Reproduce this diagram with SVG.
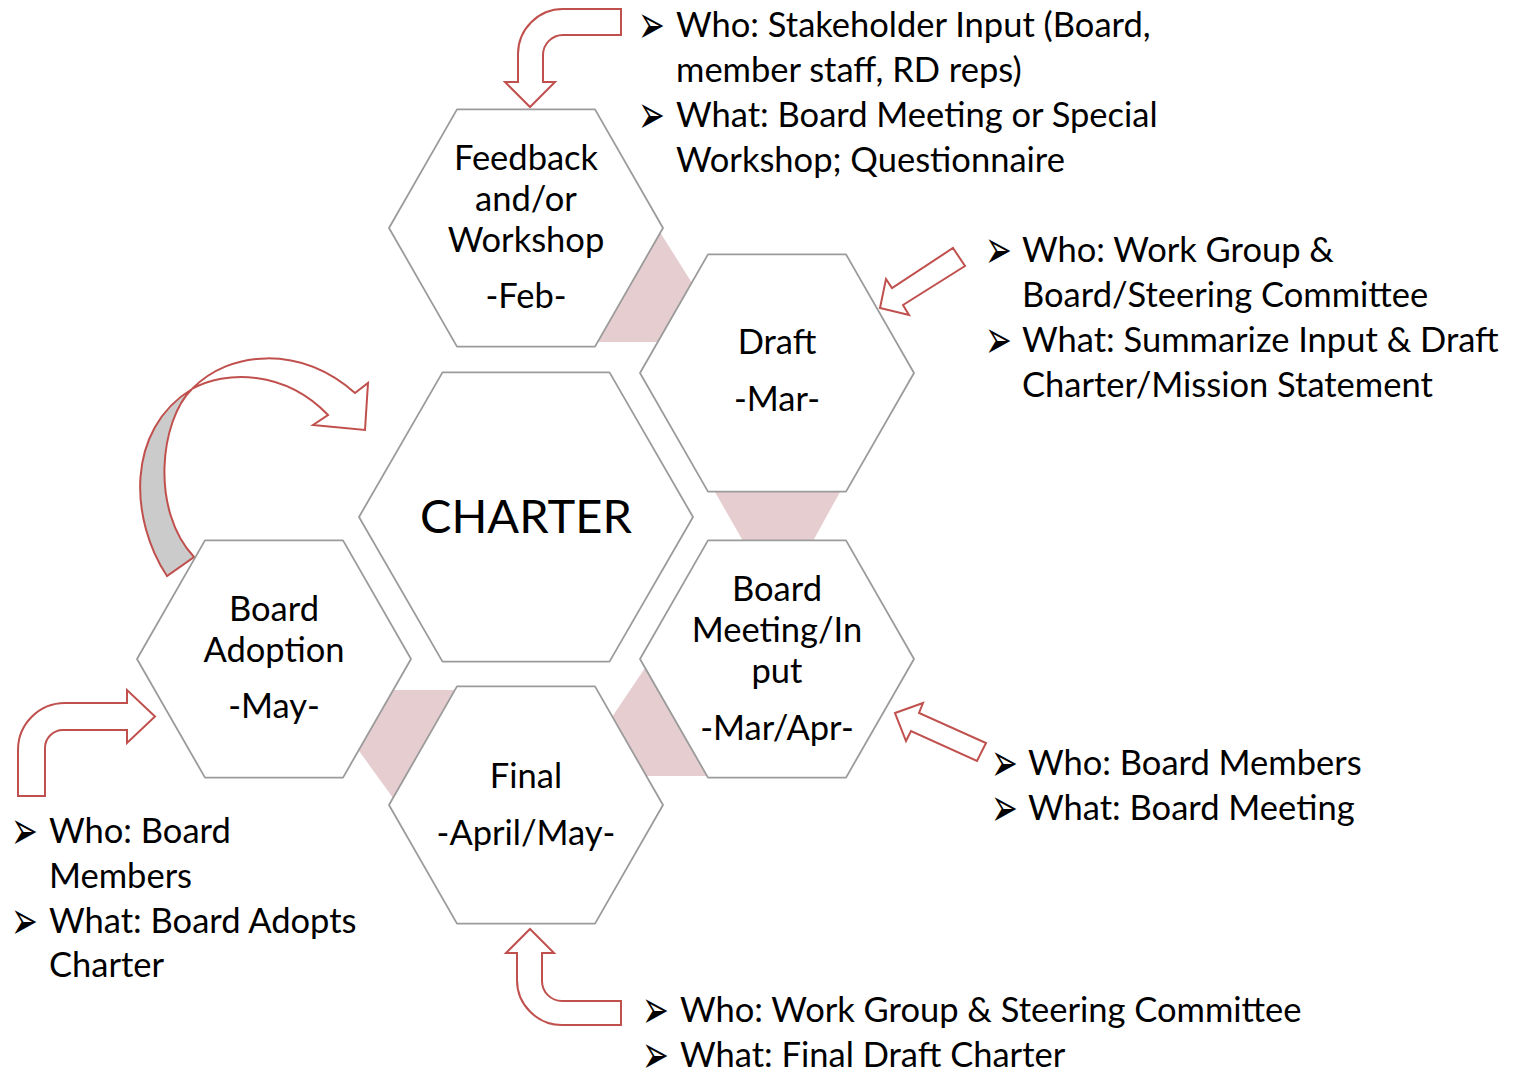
<svg xmlns="http://www.w3.org/2000/svg" width="1515" height="1074" viewBox="0 0 1515 1074">
<style>
.hex{fill:#ffffff;stroke:#9b9b9b;stroke-width:1.8;stroke-linejoin:round}
.bridge{fill:#e6cdd0;stroke:none}
.blk{fill:#ffffff;stroke:#c0504d;stroke-width:2;stroke-linejoin:miter}
.t{font-family:Lato,"Open Sans","Liberation Sans",sans-serif;font-size:34.5px;fill:#000}
.c{text-anchor:middle}
.big{font-size:47px}
.b{font-family:"DejaVu Sans",sans-serif;font-size:40px;fill:#000}
</style>
<defs>
<text id="bul" class="b" transform="scale(0.8,1.35)">➢</text>
</defs>
<rect width="1515" height="1074" fill="#ffffff"/>
<g id="connectors">
<polygon class="bridge" points="660.5,233 692,283 657.9,342 597.2,342"/>
<polygon class="bridge" points="715,492 840,492 813,541 743,541"/>
<polygon class="bridge" points="645,668 707.5,776 646,776 612,717"/>
<polygon class="bridge" points="393,690 455.4,690 393,798 358.4,750"/>
<path class="blk" d="M621,9 L563,9 A45,45 0 0 0 518,54 L518,82 L505,82 L530,107 L555,82 L543,82 L543,55 A20,20 0 0 1 563,35 L621,35 Z"/>
<polygon class="blk" points="953,248 965,266 903,305 909,315 880,308 886,279 892,288"/>
<polygon class="blk" points="895,713 923,703 919,713 986,743 977,761 911,731 906,741"/>
<path class="blk" d="M621,1001 L562,1001 A20,20 0 0 1 542,981 L542,953 L554,953 L530,929 L506,953 L517,953 L517,980 A45,45 0 0 0 562,1025 L621,1025 Z"/>
<path class="blk" d="M18,796 L18,750 A47,47 0 0 1 65,703 L127,703 L127,690 L155,716.5 L127,743 L127,730 L63,730 A18,18 0 0 0 45,748 L45,796 Z"/>
<path class="blk" style="fill:#cbcbcb" d="M167,576 C130,520 125,430 192,389 C160,420 150,510 194,557 Z"/>
<path class="blk" d="M192,389 C230,350 300,345 355,393 L368,383 L365,430 L313,425 L328,415 C285,370 225,370 192,389 Z"/>
</g>
<g id="charter">
<polygon class="hex" points="442.5,372.4 609.5,372.4 693,517 609.5,661.6 442.5,661.6 359,517"/>
<text class="t c big" x="526" y="533">CHARTER</text>
</g>
<g id="feedback">
<polygon class="hex" points="457,109.4 595,109.4 663,228 595,346.6 457,346.6 389,228"/>
<text class="t c" x="526" y="170">Feedback</text>
<text class="t c" x="526" y="211">and/or</text>
<text class="t c" x="526" y="252">Workshop</text>
<text class="t c" x="526" y="308">-Feb-</text>
</g>
<g id="draft">
<polygon class="hex" points="708,254.4 846,254.4 914,373 846,491.6 708,491.6 640,373"/>
<text class="t c" x="777" y="354">Draft</text>
<text class="t c" x="777" y="411">-Mar-</text>
</g>
<g id="board-meeting">
<polygon class="hex" points="708,540.4 846,540.4 914,659 846,777.6 708,777.6 640,659"/>
<text class="t c" x="777" y="601">Board</text>
<text class="t c" x="777" y="642">Meeting/In</text>
<text class="t c" x="777" y="683">put</text>
<text class="t c" x="777" y="740">-Mar/Apr-</text>
</g>
<g id="final">
<polygon class="hex" points="457,686.4 595,686.4 663,805 595,923.6 457,923.6 389,805"/>
<text class="t c" x="526" y="788">Final</text>
<text class="t c" x="526" y="845">-April/May-</text>
</g>
<g id="board-adoption">
<polygon class="hex" points="205,540.4 343,540.4 411,659 343,777.6 205,777.6 137,659"/>
<text class="t c" x="274" y="621">Board</text>
<text class="t c" x="274" y="662">Adoption</text>
<text class="t c" x="274" y="718">-May-</text>
</g>
<g id="notes-feedback">
<use href="#bul" x="638" y="42.5"/>
<use href="#bul" x="638" y="132.5"/>
<text class="t" x="676" y="37">Who: Stakeholder Input (Board,</text>
<text class="t" x="676" y="82">member staff, RD reps)</text>
<text class="t" x="676" y="127">What: Board Meeting or Special</text>
<text class="t" x="676" y="172">Workshop; Questionnaire</text>
</g>
<g id="notes-draft">
<use href="#bul" x="985" y="267.5"/>
<use href="#bul" x="985" y="357.5"/>
<text class="t" x="1022" y="262">Who: Work Group &amp;</text>
<text class="t" x="1022" y="307">Board/Steering Committee</text>
<text class="t" x="1022" y="352">What: Summarize Input &amp; Draft</text>
<text class="t" x="1022" y="397">Charter/Mission Statement</text>
</g>
<g id="notes-board-meeting">
<use href="#bul" x="991" y="780.5"/>
<use href="#bul" x="991" y="825.5"/>
<text class="t" x="1028" y="775">Who: Board Members</text>
<text class="t" x="1028" y="820">What: Board Meeting</text>
</g>
<g id="notes-board-adoption">
<use href="#bul" x="11" y="848.5"/>
<use href="#bul" x="11" y="938.5"/>
<text class="t" x="49" y="843">Who: Board</text>
<text class="t" x="49" y="888">Members</text>
<text class="t" x="49" y="933">What: Board Adopts</text>
<text class="t" x="49" y="977">Charter</text>
</g>
<g id="notes-final">
<use href="#bul" x="642" y="1027.5"/>
<use href="#bul" x="642" y="1072.5"/>
<text class="t" x="680" y="1022">Who: Work Group &amp; Steering Committee</text>
<text class="t" x="680" y="1067">What: Final Draft Charter</text>
</g>
</svg>
